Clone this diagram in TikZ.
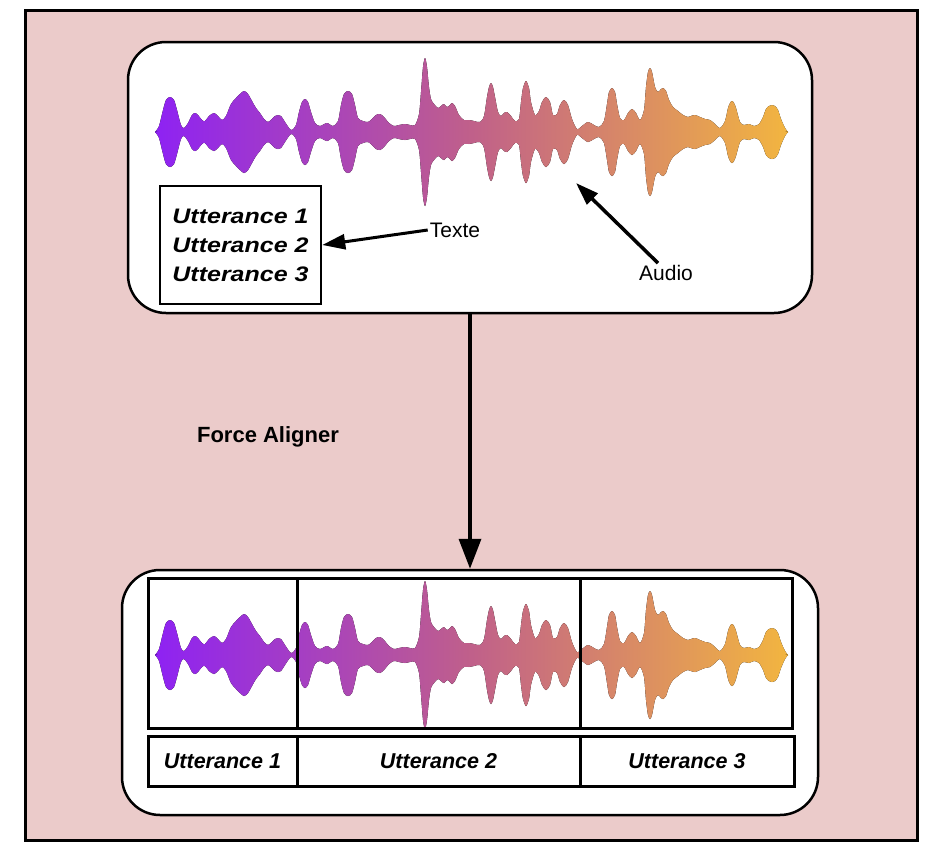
\documentclass[tikz,border=0pt]{standalone}
\usepackage{fontspec}
\setmainfont{Liberation Sans}
\newfontfamily\widesans[FakeStretch=1.19]{Liberation Sans}
\usepackage{tikz}
\usetikzlibrary{positioning,arrows.meta}
\definecolor{bgpink}{HTML}{EBCBCA}
\definecolor{wavepurple}{HTML}{8E22F3}
\definecolor{wavepink}{HTML}{C0608A}
\definecolor{waveorange}{HTML}{F2B540}
% upper half of the waveform, (x,-amplitude)
\newcommand{\wavehalf}{plot[smooth] coordinates {
  (155,0) (159,-6) (163,-22) (166,-32) (170,-35) (174,-32) (177,-22) (181,-7) (184,-4)
  (188,-9) (192,-17) (195,-19) (198,-17) (202,-12) (205,-11) (209,-16) (214,-19) (218,-16)
  (222,-12) (226,-16) (231,-28) (236,-34) (240,-38) (244,-41) (248,-38) (252,-31) (256,-24)
  (260,-19) (264,-13) (268,-10) (272,-13) (275,-16) (278,-17) (281,-16) (285,-10) (289,-4)
  (292,-2) (296,-7) (299,-20) (302,-30) (305,-33) (308,-30) (311,-20) (315,-9) (320,-6)
  (327,-9) (333,-6) (338,-11) (341,-27) (344,-38) (348,-41) (352,-38) (355,-27) (358,-14)
  (363,-11) (368,-10) (372,-13) (376,-17) (380,-18) (384,-15) (389,-9) (394,-6) (399,-7)
  (405,-8) (410,-7) (415,-7) (419,-18) (421,-40) (423,-65) (425,-74) (427,-65) (429,-45)
  (431,-33) (434,-28) (438,-24) (441,-26) (444,-28) (447,-25) (450,-27) (452,-29) (455,-26)
  (459,-17) (464,-12) (469,-12) (474,-11) (480,-10) (484,-16) (487,-35) (489,-45) (491,-49)
  (493,-45) (495,-35) (498,-20) (501,-16) (504,-19) (507,-20) (511,-16) (515,-11) (519,-13)
  (521,-30) (523,-44) (526,-51) (529,-44) (531,-30) (535,-17) (539,-21) (542,-30) (546,-35)
  (550,-30) (553,-17) (557,-18) (560,-27) (564,-32) (568,-27) (572,-13) (577,-3) (582,-6)
  (588,-10) (594,-7) (599,-5) (604,-11) (607,-28) (609,-40) (612,-44) (615,-40) (617,-28)
  (620,-14) (624,-12) (628,-19) (632,-23) (636,-19) (640,-12) (644,-22) (646,-45) (648,-60)
  (650,-64) (652,-60) (655,-45) (658,-40) (661,-43) (663,-44) (666,-41) (669,-32) (673,-25)
  (678,-21) (683,-17) (688,-15) (691,-16) (695,-17) (700,-15) (705,-13) (710,-12) (715,-8)
  (720,-4) (725,-11) (728,-24) (730,-29) (732,-31) (734,-29) (736,-24) (740,-10) (744,-7)
  (749,-8) (754,-6) (759,-8) (763,-15) (766,-23) (769,-26) (772,-27) (775,-26) (778,-22)
  (781,-13) (785,-4) (788,0)}}
\tikzset{
  >={Triangle[length=23pt,width=15pt]},
  panel/.style={rectangle, rounded corners=38pt, draw=black, line width=2.5pt, fill=white},
  cell/.style={rectangle, draw=black, line width=3pt, outer sep=0pt, inner sep=0pt},
  uttlabel/.style={font=\bfseries\itshape\fontsize{21.5}{26}\selectfont},
  note/.style={font=\fontsize{21}{25}\selectfont, inner sep=2pt},
  pointer/.style={draw, line width=3pt, ->},
  wavefill/.style={left color=wavepurple, right color=waveorange, middle color=wavepink},
  wave/.pic={
    \fill[wavefill] \wavehalf -- (785,1) -- (158,1) -- cycle;
    \fill[wavefill, yscale=-1] \wavehalf -- (785,1) -- (158,1) -- cycle;
  }
}

\begin{document}
\begin{tikzpicture}[x=1pt,y=-1pt]
    \useasboundingbox (0,0) rectangle (946,860);
    % Background and panels
    \node[draw, line width=3pt, fill=bgpink, inner sep=0pt, minimum width=892pt,
          minimum height=830pt] (canvas) at (471,425) {};
    \node[panel, minimum width=684pt, minimum height=271pt] (audiobox) at (470,177.5) {};
    \node[panel, minimum width=696pt, minimum height=245pt] (alignbox) at (470,692.5) {};

    % Waveforms
    \pic (wavetop) at (0,132) {wave};
    \pic (wavebot) at (0,655) {wave};

    % Input: text and audio
    \node[draw, line width=2.5pt, fill=white, minimum width=161pt, minimum height=118pt,
          align=center, font=\widesans\bfseries\itshape\fontsize{21}{29}\selectfont]
          (uttlist) at (240.5,245) {Utterance 1\\Utterance 2\\Utterance 3};
    \node[note] (texte) at (455,230) {Texte};
    \node[note] (audio) at (666,273) {Audio};
    \coordinate (audiotip) at (576,183);
    \draw[pointer] (texte.west) -- (uttlist.east);
    \draw[pointer, line width=3.5pt] ([xshift=-8pt]audio.north) -- (audiotip);

    % Aligner
    \node[font=\bfseries\fontsize{22}{26}\selectfont] (aligner) at (268,437) {Force Aligner};
    \draw[pointer, line width=3.5pt, -{Triangle[length=30pt,width=22pt]}]
          (audiobox.south) -- (alignbox.north);

    % Output segments
    \node[cell, minimum width=149pt, minimum height=150pt] (seg1) at (222.5,653) {};
    \node[cell, minimum width=283pt, minimum height=150pt, right=0pt of seg1] (seg2) {};
    \node[cell, minimum width=212pt, minimum height=150pt, right=0pt of seg2] (seg3) {};
    \node[cell, uttlabel, minimum width=149pt, minimum height=50pt, below=8pt of seg1] (lab1) {Utterance 1};
    \node[cell, uttlabel, minimum width=283pt, minimum height=50pt, right=0pt of lab1] (lab2) {Utterance 2};
    \node[cell, uttlabel, minimum width=214pt, minimum height=50pt, right=0pt of lab2] (lab3) {Utterance 3};

\end{tikzpicture}
\end{document}
